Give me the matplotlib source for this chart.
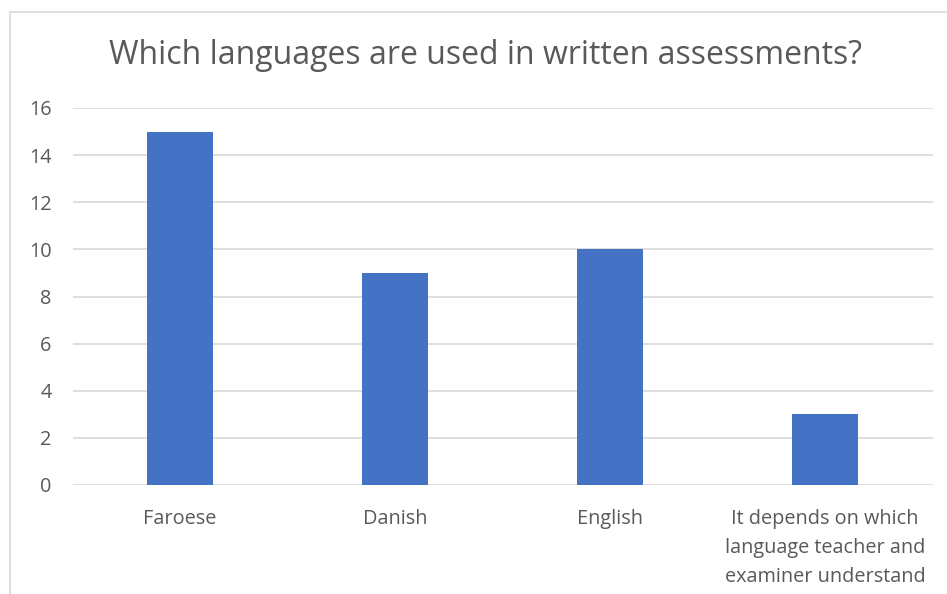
import matplotlib
matplotlib.use("Agg")
import matplotlib.pyplot as plt
from matplotlib.patches import Rectangle

categories = ["Faroese", "Danish", "English",
              "It depends on which\nlanguage teacher and\nexaminer understand"]
counts = [15, 9, 10, 3]
yticks = [0, 2, 4, 6, 8, 10, 12, 14, 16]

text_color = "#595959"
bar_color = "#4472C4"
grid_color = "#D9D9D9"

plt.rcParams["font.family"] = ["Open Sans", "DejaVu Sans"]

fig = plt.figure(figsize=(9.47, 5.94), dpi=100)

# chart border (cropped at right / bottom in the original)
fig.patches.append(Rectangle((10 / 947, -0.1), 1.2, 1 - 12 / 594 + 0.1,
                             transform=fig.transFigure, fill=False,
                             edgecolor=grid_color, linewidth=1.2))

ax = fig.add_axes([72.5 / 947, 1 - 485 / 594, 860 / 947, 377 / 594])
x = range(len(categories))
ax.bar(x, counts, width=0.31, color=bar_color, zorder=3)

ax.set_xlim(-0.5, len(categories) - 0.5)
ax.set_ylim(0, 16)
ax.set_yticks(yticks)
ax.set_xticks(list(x))
ax.set_xticklabels(categories, fontsize=14.3, color=text_color, linespacing=1.6)
ax.tick_params(axis="y", labelsize=14.3, labelcolor=text_color, length=0, pad=15)
ax.tick_params(axis="x", length=0, pad=17)
ax.grid(axis="y", color=grid_color, linewidth=1.2, zorder=0)
for s in ax.spines.values():
    s.set_visible(False)

fig.text(485 / 947, 1 - 56 / 594, "Which languages are used in written assessments?",
         ha="center", va="center", fontsize=23, color=text_color)

fig.savefig("out.png", dpi=100)
